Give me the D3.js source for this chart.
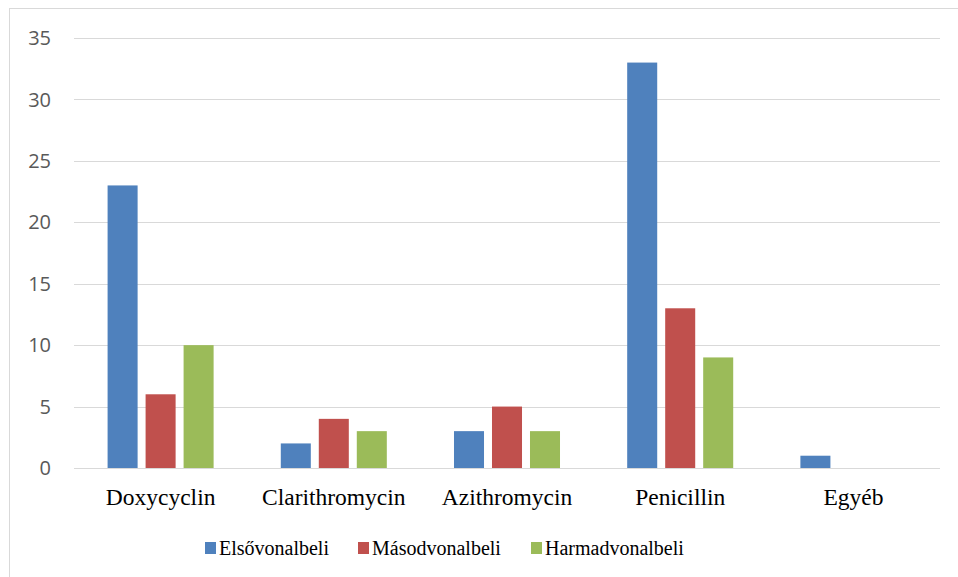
<!DOCTYPE html>
<html><head><meta charset="utf-8"><script src="https://cdn.jsdelivr.net/npm/d3@7"></script></head>
<body style="margin:0">
<script>
const categories = ["Doxycyclin", "Clarithromycin", "Azithromycin", "Penicillin", "Egyéb"];
const seriesNames = ["Elsővonalbeli", "Másodvonalbeli", "Harmadvonalbeli"];
const elsovonalbeli = [23, 2, 3, 33, 1];
const masodvonalbeli = [6, 4, 5, 13, 0];
const harmadvonalbeli = [10, 3, 3, 9, 0];
const yTicks = [0, 5, 10, 15, 20, 25, 30, 35];
const colors = ["#4f81bd", "#c0504d", "#9bbb59"];

const width = 958;
const height = 577;
const plot = { left: 74, right: 940, top: 38, bottom: 468 };
const serifFont = '"Liberation Serif"';
const sansFont = '"Open Sans"';

const seriesValues = [elsovonalbeli, masodvonalbeli, harmadvonalbeli];
const rows = categories.map((c, i) => ({
  cat: c,
  vals: seriesNames.map((s, j) => ({ key: s, value: seriesValues[j][i], color: colors[j] }))
}));

const svg = d3.select("body").append("svg")
  .attr("width", width)
  .attr("height", height);

const y = d3.scaleLinear().domain([0, 35]).range([plot.bottom, plot.top]);
const x0 = d3.scaleBand().domain(categories).range([plot.left, plot.right]).padding(0);
const x1 = d3.scaleBand().domain(seriesNames).range([0, x0.bandwidth()])
  .paddingInner(0.21).paddingOuter(0.884);

// y labels
svg.selectAll("text.ylab")
  .data(yTicks)
  .join("text")
  .attr("class", "ylab")
  .attr("x", 51)
  .attr("y", d => y(d))
  .attr("dy", "0.36em")
  .attr("text-anchor", "end")
  .attr("fill", "#595959")
  .style("font-family", sansFont)
  .style("font-size", "20px")
  .text(d => d);

// category labels
svg.selectAll("text.cat")
  .data(categories)
  .join("text")
  .attr("class", "cat")
  .attr("x", d => x0(d) + x0.bandwidth() / 2)
  .attr("y", plot.bottom + 37)
  .attr("text-anchor", "middle")
  .attr("fill", "#000")
  .style("font-family", serifFont)
  .style("font-size", "23.5px")
  .text(d => d);

// legend
const legendX = [205, 358, 531];
svg.selectAll("text.leg")
  .data(seriesNames)
  .join("text")
  .attr("class", "leg")
  .attr("x", (d, i) => legendX[i] + 14)
  .attr("y", 555)
  .attr("fill", "#000")
  .style("font-family", serifFont)
  .style("font-size", "20px")
  .text(d => d);

svg.selectAll("rect.legkey")
  .data(seriesNames)
  .join("rect")
  .attr("class", "legkey")
  .attr("x", (d, i) => legendX[i])
  .attr("y", 542)
  .attr("width", 11).attr("height", 12)
  .attr("fill", (d, i) => colors[i]);

// chart border, runs off the right and bottom edges as in the reference
svg.append("rect")
  .attr("x", 9.5).attr("y", 8.5)
  .attr("width", 960).attr("height", 580)
  .attr("fill", "none")
  .attr("stroke", "#d9d9d9");

// gridlines
svg.selectAll("line.grid")
  .data(yTicks)
  .join("line")
  .attr("class", "grid")
  .attr("x1", plot.left).attr("x2", plot.right)
  .attr("y1", d => Math.round(y(d)) + 0.5)
  .attr("y2", d => Math.round(y(d)) + 0.5)
  .attr("stroke", "#d9d9d9");

// bars
svg.selectAll("g.group")
  .data(rows)
  .join("g")
  .attr("class", "group")
  .attr("transform", d => `translate(${x0(d.cat)},0)`)
  .selectAll("rect")
  .data(d => d.vals.filter(v => v.value > 0))
  .join("rect")
  .attr("x", d => x1(d.key))
  .attr("y", d => y(d.value))
  .attr("width", x1.bandwidth())
  .attr("height", d => y(0) - y(d.value))
  .attr("fill", d => d.color);
</script></body></html>
